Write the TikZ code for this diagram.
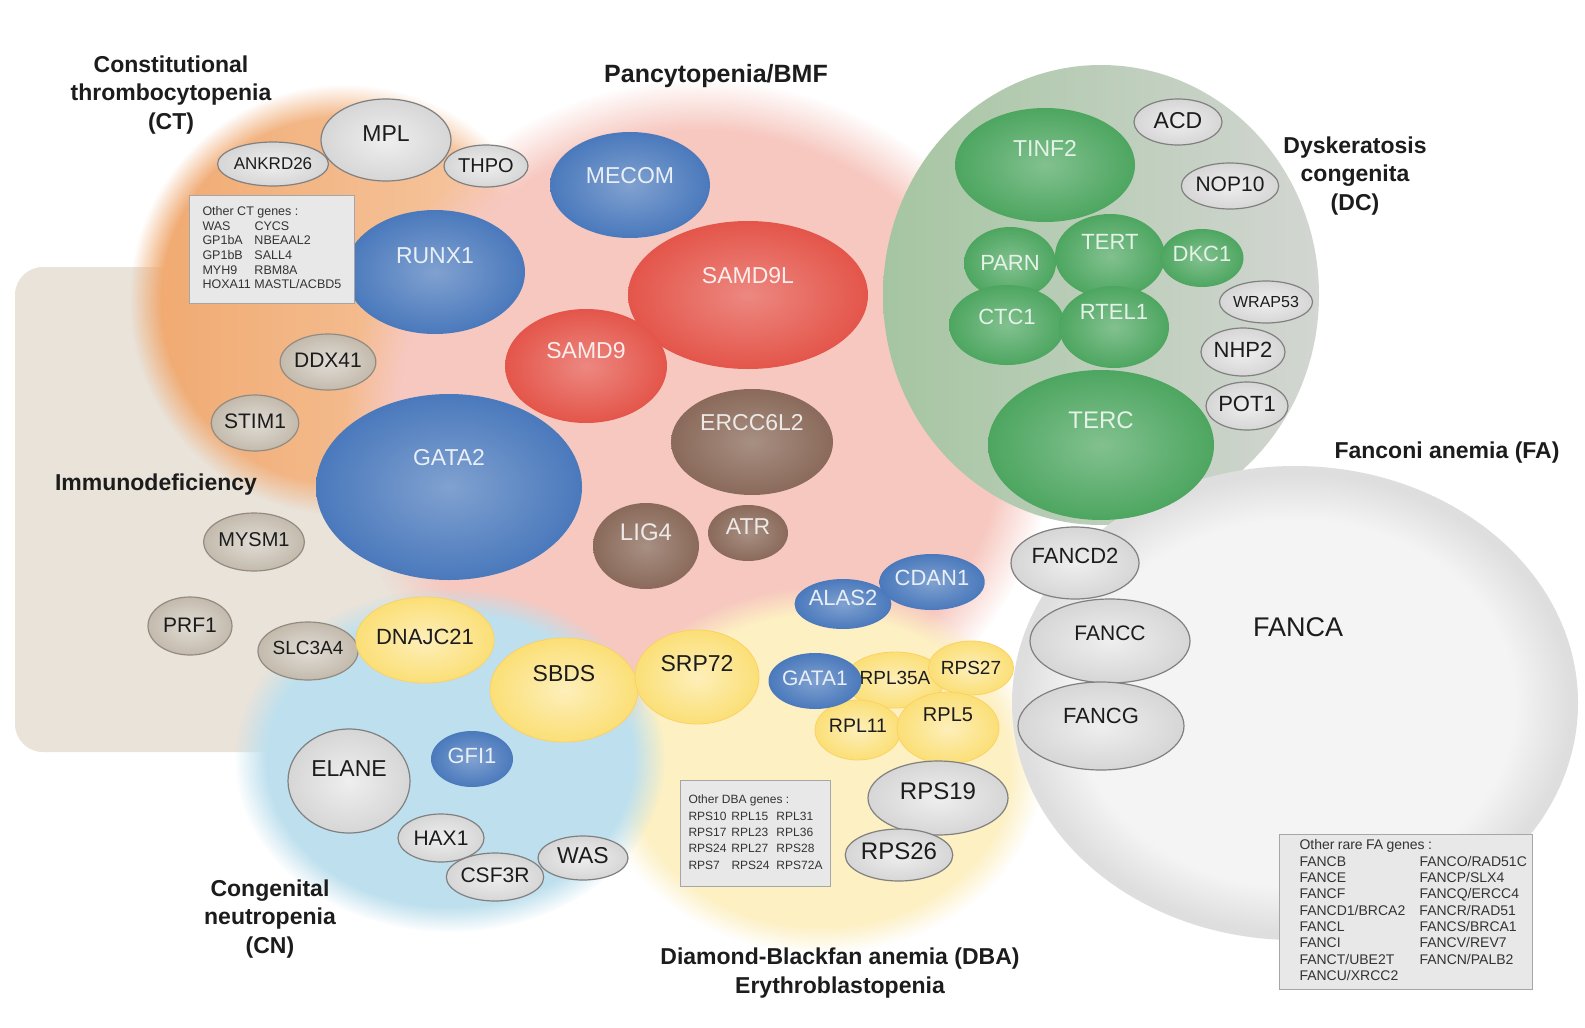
\documentclass[tikz,border=0pt]{standalone}
\usepackage{fontspec}
\setmainfont{Liberation Sans}
\usetikzlibrary{shapes.geometric,fadings}

\definecolor{bgbeige}{HTML}{E9E3DA}
\definecolor{bgorangeL}{HTML}{F0A86E}
\definecolor{bgorangeR}{HTML}{F7CBA8}
\definecolor{bgpink}{HTML}{F7C8C0}
\definecolor{bgblue}{HTML}{BEE0EE}
\definecolor{bgyellow}{HTML}{FDF0C3}
\definecolor{bggreenL}{HTML}{A5C5A1}
\definecolor{bggreenR}{HTML}{D3D6D2}
\definecolor{bgfaI}{HTML}{F4F4F4}
\definecolor{bgfaO}{HTML}{DEDEDE}
\definecolor{gblue}{HTML}{4A79BC}
\definecolor{gred}{HTML}{E4554A}
\definecolor{gbrown}{HTML}{8A6A5A}
\definecolor{ggreen}{HTML}{4DA660}
\definecolor{gyellow}{HTML}{FBDF76}
\definecolor{ggray}{HTML}{D6D6D6}
\definecolor{gtaupe}{HTML}{C3BAAC}
\definecolor{boxgray}{HTML}{E8E8E8}
\definecolor{inkdark}{HTML}{1C1C1C}

\tikzset{
	dims/.style 2 args={minimum width=#1pt, minimum height=#2pt},
	lift/.style={text depth=#1pt},
	fs/.style={font=\fontsize{#1}{#1}\selectfont},
	gene/.style={ellipse, inner sep=0pt, fs=23},
	graygene/.style={gene, draw=ggray!60!black, line width=1.2pt, inner color=ggray!40!white, outer color=ggray, text=inkdark},
	taupegene/.style={gene, draw=gtaupe!75!black, line width=1.2pt, inner color=gtaupe!50!white, outer color=gtaupe, text=inkdark},
	bluegene/.style={gene, inner color=gblue!70!white, outer color=gblue, text=white!88!gblue},
	redgene/.style={gene, inner color=gred!70!white, outer color=gred, text=white!90!gred},
	browngene/.style={gene, inner color=gbrown!75!white, outer color=gbrown, text=white!85!gbrown},
	greengene/.style={gene, inner color=ggreen!70!white, outer color=ggreen, text=white!85!ggreen},
	yellowgene/.style={gene, draw=gyellow!85!orange, line width=0.8pt, inner color=gyellow!50!white, outer color=gyellow, text=inkdark},
	headline/.style={font=\fontsize{23}{28.5}\selectfont\bfseries, align=center, text=inkdark},
	genebox/.style={draw=black!35, line width=1pt, fill=boxgray, anchor=north west, text=black!80, align=left},
	softedge/.style={path fading=circle with fuzzy edge 15 percent}
}

\begin{document}
\begin{tikzpicture}[x=1pt,y=-1pt]
	%%%%% START %%%%%
	\useasboundingbox (0,0) rectangle (1585,1028);
	\fill[white] (0,0) rectangle (1585,1028);
	
	\fill[bgbeige, rounded corners=28pt] (15,267) rectangle (600,752);
	\shade[left color=bgorangeL, right color=bgorangeR, softedge] (345,300) ellipse [x radius=215pt, y radius=215pt];
	\fill[bgpink, softedge] (700,425) ellipse [x radius=355pt, y radius=345pt];
	\fill[bgyellow, softedge] (820,770) ellipse [x radius=222pt, y radius=183pt];
	\fill[bgblue, softedge] (450,760) ellipse [x radius=215pt, y radius=172pt];
	
	\shade[left color=bggreenL, right color=bggreenR] (1101,295) ellipse [x radius=218pt, y radius=230pt];
	\fill[bgfaO] (1295,703) ellipse [x radius=283pt, y radius=237pt];
	\fill[bgfaI, path fading=circle with fuzzy edge 20 percent] (1295,703) ellipse [x radius=276pt, y radius=230pt];
	
	% CT
	\node[graygene, dims={130}{82}, lift=12] (mpl) at (386,140) {MPL};
	\node[graygene, dims={84}{44}, fs=17] (ankrd26) at (273,164) {ANKRD26};
	\node[graygene, dims={84}{42}, fs=20] (thpo) at (486,166) {THPO};
	\node[taupegene, dims={78}{56}, lift=4, fs=21] (ddx41) at (328,362) {DDX41};
	\node[taupegene, dims={84}{56}, lift=4, fs=21] (stim1) at (255,423) {STIM1};
	
	% BMF
	\node[bluegene, dims={160}{106}, lift=20] (mecom) at (630,185) {MECOM};
	\node[bluegene, dims={180}{124}, lift=32] (runx1) at (435,272) {RUNX1};
	\node[redgene, dims={240}{148}, lift=40] (samd9l) at (748,295) {SAMD9L};
	\node[redgene, dims={162}{114}, lift=32] (samd9) at (586,366) {SAMD9};
	\node[browngene, dims={162}{106}, lift=40] (ercc6l2) at (752,442) {ERCC6L2};
	\node[bluegene, dims={266}{186}, lift=60] (gata2) at (449,487) {GATA2};
	\node[browngene, dims={106}{86}, lift=28, fs=24] (lig4) at (646,546) {LIG4};
	\node[browngene, dims={80}{56}, lift=12] (atr) at (748,533) {ATR};
	
	% immunodeficiency
	\node[taupegene, dims={84}{58}, lift=4, fs=20] (mysm1) at (254,542) {MYSM1};
	\node[taupegene, dims={84}{58}, lift=2, fs=21] (prf1) at (190,626) {PRF1};
	\node[taupegene, dims={84}{58}, lift=6, fs=19] (slc3a4) at (308,651) {SLC3A4};
	
	% CN
	\node[yellowgene, dims={114}{86}, lift=6, fs=22] (dnajc21) at (425,640) {DNAJC21};
	\node[yellowgene, dims={148}{104}, lift=34] (sbds) at (564,690) {SBDS};
	\node[yellowgene, dims={124}{94}, lift=28] (srp72) at (697,677) {SRP72};
	\node[graygene, dims={122}{104}, lift=24] (elane) at (349,781) {ELANE};
	\node[bluegene, dims={82}{56}, lift=6, fs=22] (gfi1) at (472,759) {GFI1};
	\node[graygene, dims={86}{48}, fs=21] (hax1) at (441,838) {HAX1};
	\node[graygene, dims={86}{48}, lift=4, fs=21] (csf3r) at (495,877) {CSF3R};
	\node[graygene, dims={90}{44}, lift=6] (was) at (583,858) {WAS};
	
	% DBA
	\node[bluegene, dims={84}{50}, lift=12, fs=22] (alas2) at (843,604) {ALAS2};
	\node[bluegene, dims={84}{56}, lift=8, fs=22] (cdan1) at (932,582) {CDAN1};
	\node[yellowgene, dims={80}{56}, lift=4, fs=19] (rpl35a) at (895,680) {RPL35A};
	\node[yellowgene, dims={78}{54}, fs=19] (rps27) at (971,668) {RPS27};
	\node[yellowgene, dims={86}{60}, lift=8, fs=19.5] (rpl11) at (858,730) {RPL11};
	\node[yellowgene, dims={102}{72}, lift=26, fs=20] (rpl5) at (948,728) {RPL5};
	\node[bluegene, dims={84}{56}, lift=6, fs=21] (gata1) at (815,681) {GATA1};
	\node[graygene, dims={140}{74}, lift=14, fs=24] (rps19) at (938,798) {RPS19};
	\node[graygene, dims={90}{52}, lift=8, fs=24] (rps26) at (899,855) {RPS26};
	
	% DC
	\node[greengene, dims={180}{114}, lift=34] (tinf2) at (1045,165) {TINF2};
	\node[greengene, dims={92}{72}, fs=22] (parn) at (1010,263) {PARN};
	\node[greengene, dims={110}{84}, lift=28, fs=22] (tert) at (1110,256) {TERT};
	\node[greengene, dims={80}{58}, lift=8, fs=22] (dkc1) at (1202,258) {DKC1};
	\node[greengene, dims={116}{80}, lift=16, fs=22] (ctc1) at (1007,325) {CTC1};
	\node[greengene, dims={110}{82}, lift=30, fs=22] (rtel1) at (1114,327) {RTEL1};
	\node[greengene, dims={226}{150}, lift=50, fs=24] (terc) at (1101,445) {TERC};
	\node[graygene, dims={88}{46}, lift=4] (acd) at (1178,122) {ACD};
	\node[graygene, dims={84}{46}, lift=4, fs=21] (nop10) at (1230,186) {NOP10};
	\node[graygene, dims={84}{42}, fs=16] (wrap53) at (1266,302) {WRAP53};
	\node[graygene, dims={84}{48}, lift=4, fs=22] (nhp2) at (1243,352) {NHP2};
	\node[graygene, dims={82}{48}, lift=4, fs=22] (pot1) at (1247,406) {POT1};
	
	% FA
	\node[graygene, dims={128}{72}, lift=14, fs=22] (fancd2) at (1075,563) {FANCD2};
	\node[graygene, dims={160}{84}, lift=16, fs=21] (fancc) at (1110,641) {FANCC};
	\node[graygene, dims={166}{88}, lift=20, fs=22] (fancg) at (1101,726) {FANCG};
	\node[fs=27, text=inkdark] (fanca) at (1298,627) {FANCA};
	
	% other genes
	\node[genebox, inner xsep=13pt, inner ysep=10pt] (ctbox) at (189,195) {\fontsize{12.5}{14.6}\selectfont
		\begin{tabular}{@{}p{52pt}@{}l@{}}
			\multicolumn{2}{@{}l@{}}{Other CT genes :}\\
			WAS & CYCS\\
			GP1bA & NBEAAL2\\
			GP1bB & SALL4\\
			MYH9 & RBM8A\\
			HOXA11 & MASTL/ACBD5
		\end{tabular}};
	\node[genebox, inner xsep=8pt, inner ysep=12pt] (dbabox) at (680,780) {\fontsize{12}{16.3}\selectfont
		\begin{tabular}{@{}p{43pt}@{}p{45pt}@{}l@{}}
			\multicolumn{3}{@{}l@{}}{Other DBA genes :}\\
			RPS10 & RPL15 & RPL31\\
			RPS17 & RPL23 & RPL36\\
			RPS24 & RPL27 & RPS28\\
			RPS7 & RPS24 & RPS72A
		\end{tabular}};
	\node[genebox, inner xsep=20pt, inner ysep=4pt, text width=213pt] (fabox) at (1279,834) {\fontsize{14}{16.3}\selectfont
		\begin{tabular}{@{}p{120pt}@{}l@{}}
			\multicolumn{2}{@{}l@{}}{Other rare FA genes :}\\
			FANCB & FANCO/RAD51C\\
			FANCE & FANCP/SLX4\\
			FANCF & FANCQ/ERCC4\\
			FANCD1/BRCA2 & FANCR/RAD51\\
			FANCL & FANCS/BRCA1\\
			FANCI & FANCV/REV7\\
			FANCT/UBE2T & FANCN/PALB2\\
			FANCU/XRCC2 &
		\end{tabular}};
	
	% headings
	\node[headline] (ctlabel) at (171,95) {Constitutional\\thrombocytopenia\\(CT)};
	\node[headline, font=\fontsize{25}{30}\selectfont\bfseries] (bmflabel) at (716,76) {Pancytopenia/BMF};
	\node[headline] (dclabel) at (1355,176) {Dyskeratosis\\congenita\\(DC)};
	\node[headline] (falabel) at (1447,453) {Fanconi anemia (FA)};
	\node[headline] (idlabel) at (156,485) {Immunodeficiency};
	\node[headline] (cnlabel) at (270,919) {Congenital\\neutropenia\\(CN)};
	\node[headline] (dbalabel) at (840,973) {Diamond-Blackfan anemia (DBA)\\Erythroblastopenia};
	
	%%%%% END %%%%%
\end{tikzpicture}
\end{document}
